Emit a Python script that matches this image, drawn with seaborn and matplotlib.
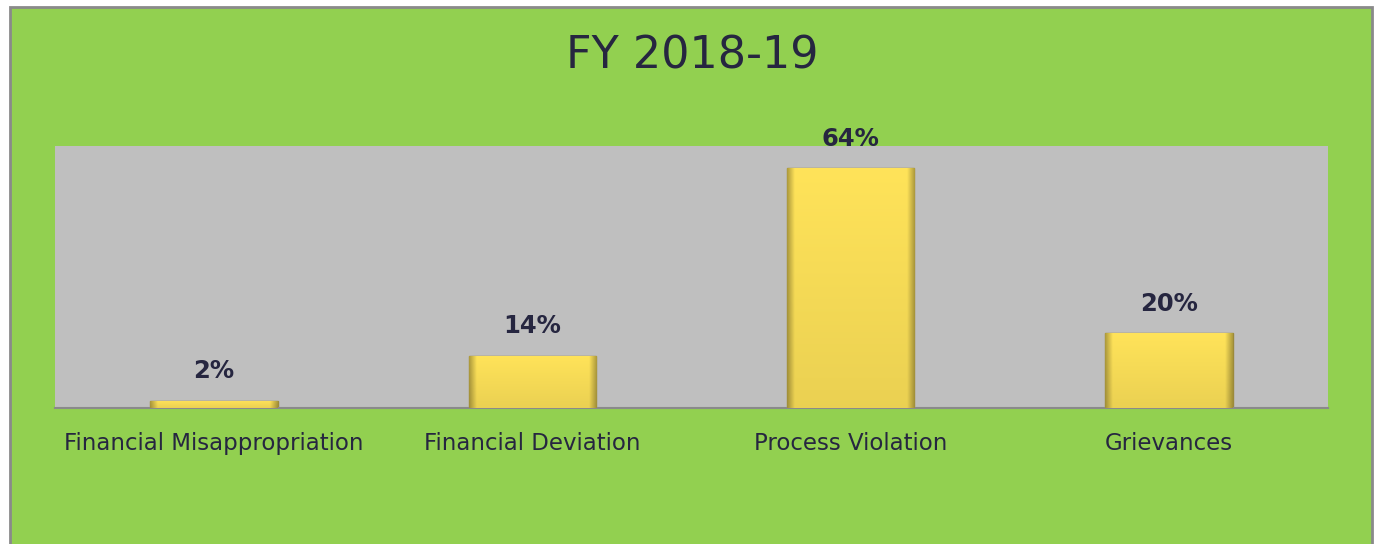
import matplotlib.pyplot as plt
import matplotlib.patches as mpatches
import numpy as np
import pandas as pd
import seaborn as sns

categories = ["Financial Misappropriation", "Financial Deviation",
              "Process Violation", "Grievances"]
shares = [2, 14, 64, 20]
labels = ["2%", "14%", "64%", "20%"]

sns.set_style("white")
plt.rcParams['font.family'] = ['DejaVu Sans']
text_c = '#262640'

df = pd.DataFrame({'category': categories, 'share': shares})

fig = plt.figure(figsize=(13.77, 5.44), dpi=100, facecolor='white')
# green panel with grey frame
fig.patches.append(mpatches.Rectangle((10 / 1377, -0.01), 1362 / 1377, 1 - 7 / 544 + 0.01,
                                      transform=fig.transFigure, facecolor='#92D050',
                                      edgecolor='#8a8a8a', linewidth=2, zorder=-10))

ax = fig.add_axes([55 / 1377, 1 - 408 / 544, 1273 / 1377, 262 / 544])
ax.set_zorder(2)
ax.set_facecolor('#BFBFBF')
sns.barplot(data=df, x='category', y='share', color='#FFE45A', width=0.40,
            edgecolor='#9C8A3A', linewidth=1.0, ax=ax, zorder=2)

# bevel look: flat yellow face, darker rim at the sides
u = np.linspace(0, 1, 256)
rim = np.clip(np.minimum(u, 1 - u) / 0.06, 0, 1)
shade_x = 0.68 + 0.32 * rim
base = np.array([1.0, 0.89, 0.35])
for bar in ax.patches:
    x0, y0 = bar.get_x(), bar.get_y()
    w, h = bar.get_width(), bar.get_height()
    v = np.linspace(0, 1, 64)[:, None]
    shade = shade_x[None, :] * (0.92 + 0.08 * v)
    img = base[None, None, :] * shade[..., None]
    im = ax.imshow(img, extent=(x0, x0 + w, y0, y0 + h), aspect='auto',
                   zorder=3, origin='lower')
    im.set_clip_path(bar)

for i, (v, lab) in enumerate(zip(shares, labels)):
    ax.text(i, v + 4.6, lab, ha='center', va='bottom', fontsize=17.5,
            fontweight='bold', color=text_c, zorder=5)

ax.set_xlim(-0.5, 3.5)
ax.set_ylim(0, 70)
ax.set_xlabel('')
ax.set_ylabel('')
ax.set_yticks([])
ax.tick_params(axis='x', length=0, pad=17, labelsize=16.5, labelcolor=text_c)
for s in ['top', 'left', 'right']:
    ax.spines[s].set_visible(False)
ax.spines['bottom'].set_color('#8a8a8a')
ax.spines['bottom'].set_linewidth(1.5)

fig.text(692 / 1377, 1 - 56 / 544, 'FY 2018-19', ha='center', va='center',
         fontsize=32, color=text_c)

fig.savefig('out.png', dpi=100, facecolor=fig.get_facecolor())
